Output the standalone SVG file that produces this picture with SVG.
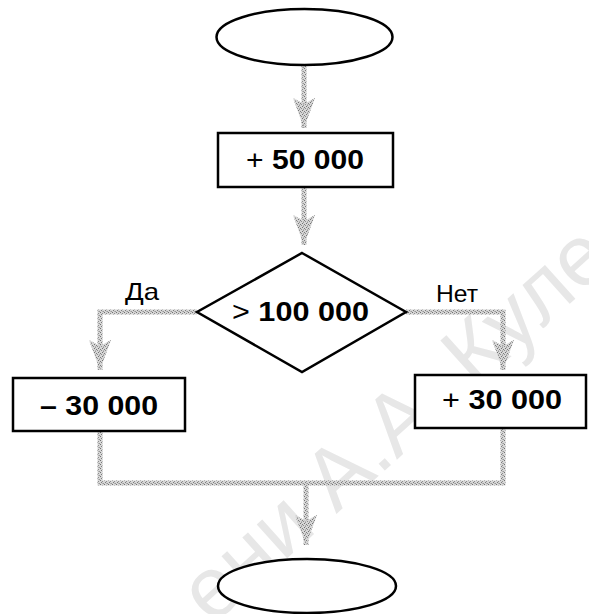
<svg xmlns="http://www.w3.org/2000/svg" width="589" height="614" viewBox="0 0 589 614">
  <defs>
    <!-- dithered grey used for the flow lines -->
    <pattern id="grain" width="4" height="4" patternUnits="userSpaceOnUse">
      <rect width="4" height="4" fill="#d6d6d6"/>
      <rect x="0" y="0" width="1" height="1" fill="#727272"/>
      <rect x="2" y="1" width="1" height="1" fill="#8e8e8e"/>
      <rect x="1" y="2" width="1" height="1" fill="#7c7c7c"/>
      <rect x="3" y="3" width="1" height="1" fill="#989898"/>
      <rect x="2" y="3" width="1" height="1" fill="#b4b4b4"/>
    </pattern>
    <marker id="head" markerUnits="userSpaceOnUse" viewBox="0 0 30 22" markerWidth="30" markerHeight="22" refX="30" refY="11" orient="auto">
      <path d="M0,0 L30,11 L0,22 L6,11 Z" fill="url(#grain)"/>
    </marker>
    <style>
      .shape { fill: #ffffff; stroke: #000000; stroke-width: 2.5; }
      .flow { fill: none; stroke: url(#grain); stroke-width: 5; }
      .num { font-family: "Liberation Sans", Arial, sans-serif; font-weight: bold; fill: #000000; }
      .num tspan.op { font-weight: normal; }
      .label { font-family: "Liberation Sans", Arial, sans-serif; font-size: 24px; fill: #000000; }
      .mark { font-family: "Liberation Sans", Arial, sans-serif; font-size: 86px; fill: #e7e7e7; }
    </style>
  </defs>

  <rect width="589" height="614" fill="#ffffff"/>

  <!-- background stamp -->
  <text class="mark" transform="translate(212,626) rotate(-42)">ени А.А. Куле</text>

  <!-- flow lines -->
  <g id="connectors">
    <path class="flow" d="M304,66 V128" marker-end="url(#head)"/>
    <path class="flow" d="M304,188 V245" marker-end="url(#head)"/>
    <path class="flow" d="M197,312 H100 V370" marker-end="url(#head)"/>
    <path class="flow" d="M406,312 H503 V370" marker-end="url(#head)"/>
    <path class="flow" d="M100,432 V483 H503 V429"/>
    <path class="flow" d="M306,483 V545" marker-end="url(#head)"/>
  </g>

  <g id="start">
    <ellipse class="shape" cx="304.5" cy="37" rx="88" ry="28"/>
  </g>

  <g id="add50">
    <rect class="shape" x="218" y="133" width="175" height="54"/>
    <text class="num" x="246" y="169" font-size="27" textLength="118" lengthAdjust="spacingAndGlyphs"><tspan class="op">+</tspan> 50 000</text>
  </g>

  <g id="check">
    <polygon class="shape" points="302,253 406,312 302,372 197,312"/>
    <text class="num" x="232" y="321" font-size="27" textLength="137" lengthAdjust="spacingAndGlyphs"><tspan class="op">&gt;</tspan> 100 000</text>
  </g>

  <g id="label-yes">
    <text class="label" x="125" y="300" textLength="34" lengthAdjust="spacingAndGlyphs">Да</text>
  </g>

  <g id="label-no">
    <text class="label" x="436" y="302" textLength="42" lengthAdjust="spacingAndGlyphs">Нет</text>
  </g>

  <g id="sub30">
    <rect class="shape" x="13" y="378" width="172" height="53"/>
    <text class="num" x="40" y="415" font-size="27" textLength="118" lengthAdjust="spacingAndGlyphs">– 30 000</text>
  </g>

  <g id="add30">
    <rect class="shape" x="415" y="375" width="171" height="53"/>
    <text class="num" x="442" y="409" font-size="27" textLength="120" lengthAdjust="spacingAndGlyphs"><tspan class="op">+</tspan> 30 000</text>
  </g>

  <g id="end">
    <ellipse class="shape" cx="307" cy="586" rx="89" ry="27"/>
  </g>
</svg>
